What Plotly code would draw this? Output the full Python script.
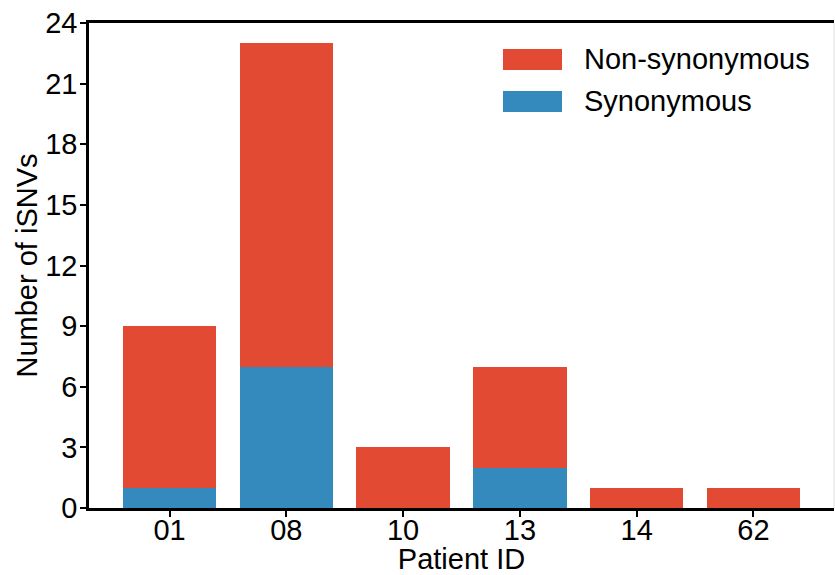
import plotly.graph_objects as go

patients = ["01", "08", "10", "13", "14", "62"]
synonymous = [1, 7, 0, 2, 0, 0]
non_synonymous = [8, 16, 3, 5, 1, 1]
y_ticks = [0, 3, 6, 9, 12, 15, 18, 21, 24]

RED = "#E24A33"
BLUE = "#348ABD"
FONT = "Liberation Sans, Arial, sans-serif"
FS = 29

PL, PR, PT, PB = 89, 834, 23, 508  # plot area pixel bounds
W, H = 835, 575

fig = go.Figure()
fig.add_trace(go.Bar(x=list(range(len(patients))), y=synonymous, name="Synonymous",
                     marker=dict(color=BLUE, line=dict(width=0)), width=0.8, showlegend=False))
fig.add_trace(go.Bar(x=list(range(len(patients))), y=non_synonymous, name="Non-synonymous",
                     marker=dict(color=RED, line=dict(width=0)), width=0.8, showlegend=False))

fig.update_layout(
    barmode="stack",
    width=W, height=H,
    margin=dict(l=PL, r=W - PR, t=PT, b=H - PB, autoexpand=False),
    paper_bgcolor="white", plot_bgcolor="white",
    font=dict(family=FONT, size=FS, color="black"),
    xaxis=dict(
        range=[-0.69, 5.69], automargin=False,
        tickmode="array", tickvals=list(range(len(patients))), ticktext=patients,
        showgrid=False, zeroline=False,
        showline=True, linecolor="black", linewidth=2.5, mirror=True,
        ticks="outside", ticklen=6, tickwidth=1.5, tickcolor="black",
        ticklabelstandoff=-12,
        title=dict(text="Patient ID", standoff=0, font=dict(size=FS)),
        tickfont=dict(size=FS),
    ),
    yaxis=dict(
        range=[0, 24], automargin=False,
        tickmode="array", tickvals=y_ticks,
        showgrid=False, zeroline=False,
        showline=True, linecolor="black", linewidth=2.5,
        ticks="outside", ticklen=6, tickwidth=1.5, tickcolor="black",
        ticklabelstandoff=-3,
        tickfont=dict(size=FS),
    ),
)

pw, ph = PR - PL, PB - PT

# y-axis title
fig.add_annotation(xref="paper", yref="paper", x=(26 - PL) / pw, y=0.5,
                   text="Number of iSNVs", textangle=-90, showarrow=False,
                   xanchor="center", yanchor="middle",
                   font=dict(size=FS, family=FONT, color="black"))

# right spine (faint)
fig.add_shape(type="line", xref="paper", yref="paper", x0=1, x1=1, y0=0, y1=1,
              line=dict(color="#e0e0e0", width=1))

# custom legend with wide patches like the reference
legend_items = [("Non-synonymous", RED), ("Synonymous", BLUE)]
for i, (label, color) in enumerate(legend_items):
    y_top = 1 - (49 + 42 * i - PT) / ph
    y_bot = 1 - (70 + 42 * i - PT) / ph
    x0 = (503 - PL) / pw
    x1 = (562 - PL) / pw
    fig.add_shape(type="rect", xref="paper", yref="paper", x0=x0, x1=x1, y0=y_bot, y1=y_top,
                  fillcolor=color, line=dict(width=0))
    fig.add_annotation(xref="paper", yref="paper", x=(582 - PL) / pw, y=(y_top + y_bot) / 2,
                       text=label, showarrow=False, xanchor="left", yanchor="middle",
                       font=dict(size=FS, family=FONT, color="black"))

fig.write_html("out.html")
